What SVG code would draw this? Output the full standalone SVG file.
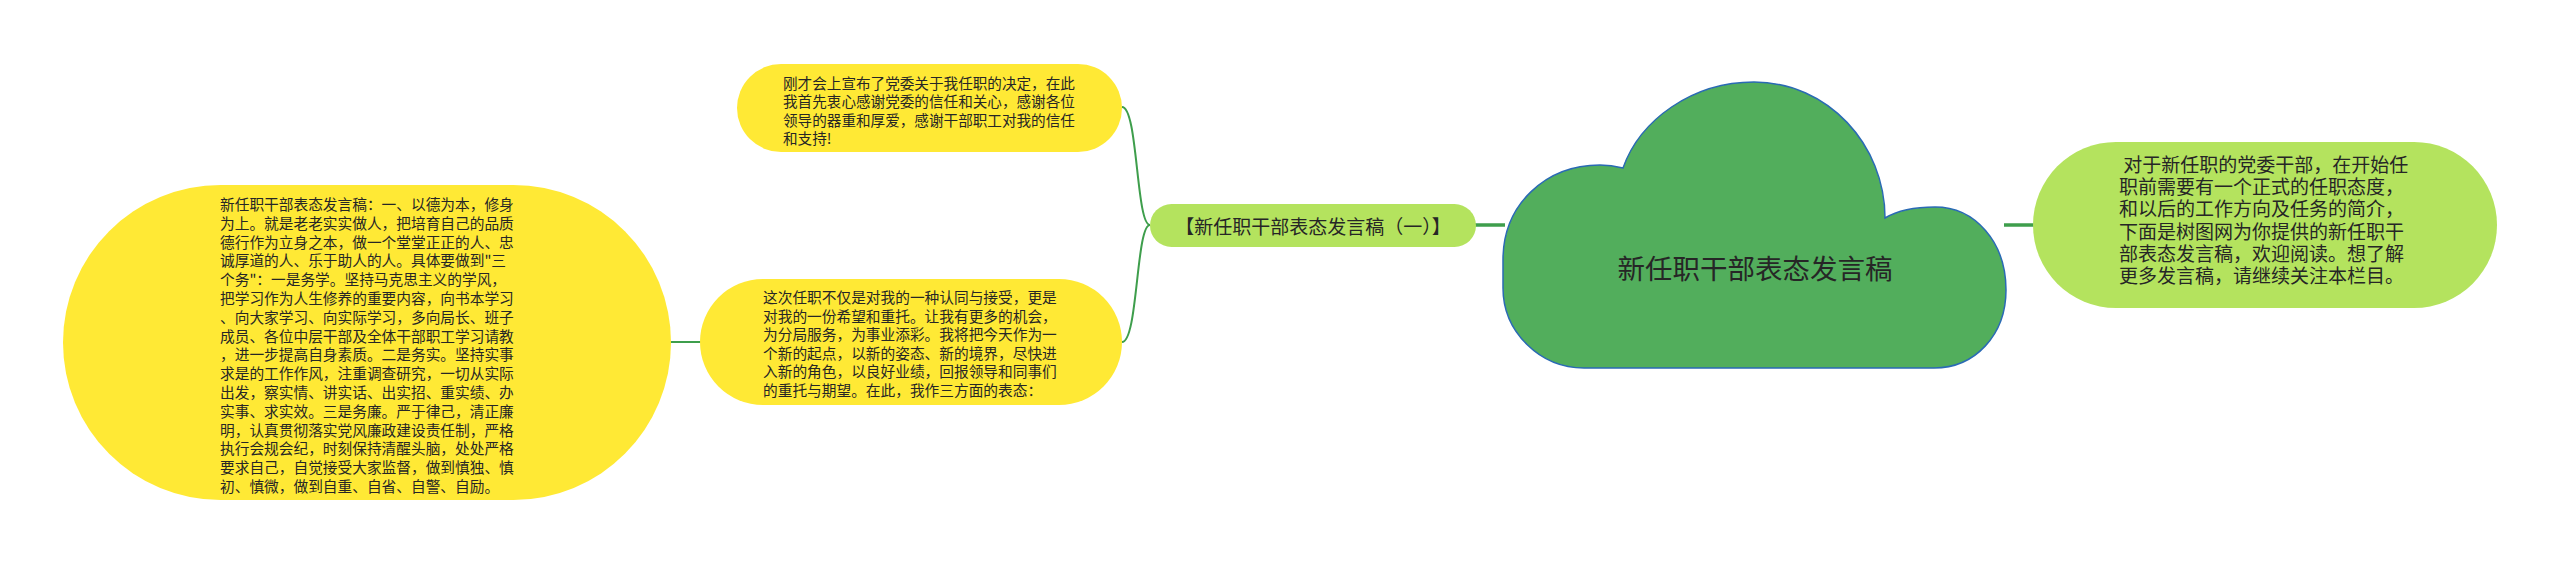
<svg xmlns="http://www.w3.org/2000/svg" width="2560" height="564" viewBox="0 0 2560 564">
<style>
.t{font-family:"Noto Sans CJK SC","Liberation Sans",sans-serif;fill:#262626;dominant-baseline:central}
.s{font-size:14.7px}
.y{fill:#FFE935}
.g{fill:#B4E35E}
.c{fill:none;stroke:#3E9E4C;stroke-width:2}
.cw{fill:none;stroke:#3E9E4C;stroke-width:3.5}
</style>
<rect width="2560" height="564" fill="#ffffff"/>
<g id="connectors">
<line class="cw" x1="2004" y1="225" x2="2035" y2="225"/>
<line class="cw" x1="1474" y1="225" x2="1505" y2="225"/>
<path class="c" d="M1150 225 C1136 225 1138 107 1122 107"/>
<path class="c" d="M1150 225 C1136 225 1138 342 1122 342"/>
<line class="c" x1="669" y1="342" x2="702" y2="342"/>
</g>
<g id="root">
<path d="M1584 368 L1934 368 C1975 368 2006 335 2006 290 C2006 242 1975 207 1935 207 C1912 207 1895 212 1885 218 C1885 145 1828 82 1754 82 C1692 82 1640 120 1623 168 C1615 166 1608 165 1600 165 C1545 165 1503 205 1503 260 L1503 288 C1503 332 1540 368 1584 368 Z" fill="#52AE5C" stroke="#2A6AB4" stroke-width="1.5"/>
<text class="t" x="1755" y="267" font-size="27.5" text-anchor="middle">新任职干部表态发言稿</text>
</g>
<g id="intro">
<rect class="g" x="2033" y="142" width="464" height="166" rx="83"/>
<text class="t" font-size="19" xml:space="preserve"><tspan x="2119" y="163"> 对于新任职的党委干部，在开始任</tspan><tspan x="2119" y="185.2">职前需要有一个正式的任职态度，</tspan><tspan x="2119" y="207.4">和以后的工作方向及任务的简介，</tspan><tspan x="2119" y="229.6">下面是树图网为你提供的新任职干</tspan><tspan x="2119" y="251.8">部表态发言稿，欢迎阅读。想了解</tspan><tspan x="2119" y="274">更多发言稿，请继续关注本栏目。</tspan></text>
</g>
<g id="branch1">
<rect class="g" x="1150" y="204" width="326" height="43" rx="21.5"/>
<text class="t" x="1313" y="225.5" font-size="19" text-anchor="middle">【新任职干部表态发言稿（一）】</text>
</g>
<g id="thanks">
<rect class="y" x="737" y="64" width="385" height="88" rx="44"/>
<text class="t" font-size="14.6"><tspan x="783" y="82">刚才会上宣布了党委关于我任职的决定，在此</tspan><tspan x="783" y="100.3">我首先衷心感谢党委的信任和关心，感谢各位</tspan><tspan x="783" y="118.6">领导的器重和厚爱，感谢干部职工对我的信任</tspan><tspan x="783" y="136.9">和支持!</tspan></text>
</g>
<g id="trust">
<rect class="y" x="700" y="279" width="422" height="126" rx="63"/>
<text class="t s"><tspan x="763" y="296">这次任职不仅是对我的一种认同与接受，更是</tspan><tspan x="763" y="314.6">对我的一份希望和重托。让我有更多的机会，</tspan><tspan x="763" y="333.2">为分局服务，为事业添彩。我将把今天作为一</tspan><tspan x="763" y="351.8">个新的起点，以新的姿态、新的境界，尽快进</tspan><tspan x="763" y="370.4">入新的角色，以良好业绩，回报领导和同事们</tspan><tspan x="763" y="389">的重托与期望。在此，我作三方面的表态：</tspan></text>
</g>
<g id="speech">
<rect class="y" x="63" y="185" width="608" height="315" rx="157.5"/>
<text class="t s"><tspan x="220" y="203">新任职干部表态发言稿：一、以德为本，修身</tspan><tspan x="220" y="221.8">为上。就是老老实实做人，把培育自己的品质</tspan><tspan x="220" y="240.6">德行作为立身之本，做一个堂堂正正的人、忠</tspan><tspan x="220" y="259.4">诚厚道的人、乐于助人的人。具体要做到"三</tspan><tspan x="220" y="278.2">个务"：一是务学。坚持马克思主义的学风，</tspan><tspan x="220" y="297">把学习作为人生修养的重要内容，向书本学习</tspan><tspan x="220" y="315.8">、向大家学习、向实际学习，多向局长、班子</tspan><tspan x="220" y="334.6">成员、各位中层干部及全体干部职工学习请教</tspan><tspan x="220" y="353.4">，进一步提高自身素质。二是务实。坚持实事</tspan><tspan x="220" y="372.2">求是的工作作风，注重调查研究，一切从实际</tspan><tspan x="220" y="391">出发，察实情、讲实话、出实招、重实绩、办</tspan><tspan x="220" y="409.8">实事、求实效。三是务廉。严于律己，清正廉</tspan><tspan x="220" y="428.6">明，认真贯彻落实党风廉政建设责任制，严格</tspan><tspan x="220" y="447.4">执行会规会纪，时刻保持清醒头脑，处处严格</tspan><tspan x="220" y="466.2">要求自己，自觉接受大家监督，做到慎独、慎</tspan><tspan x="220" y="485">初、慎微，做到自重、自省、自警、自励。</tspan></text>
</g>
</svg>
